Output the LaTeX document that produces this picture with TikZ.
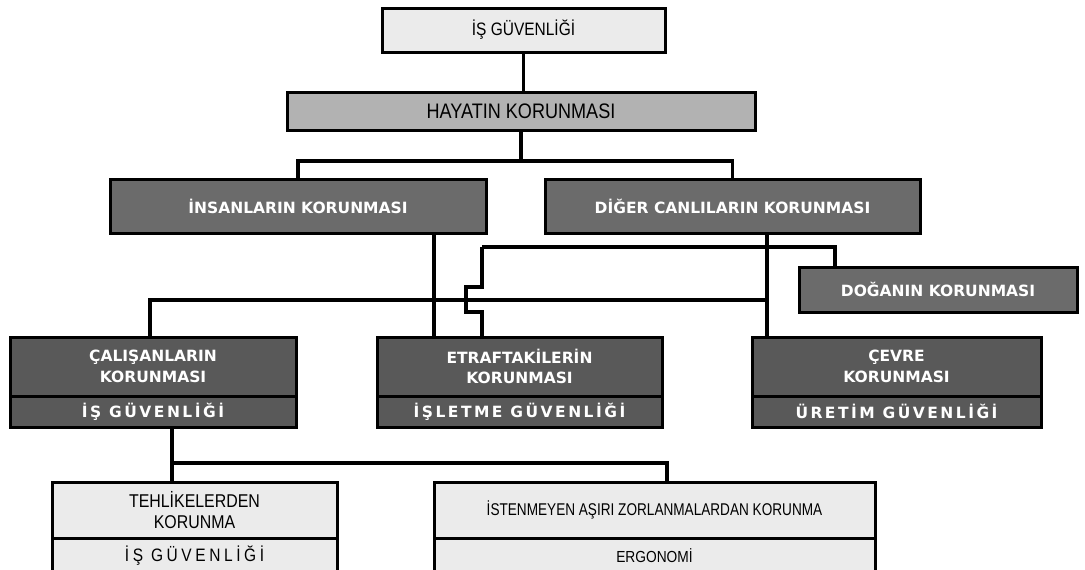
\documentclass[tikz,border=0pt]{standalone}
\usepackage{fontspec}
\setmainfont{Liberation Sans}
\newfontfamily\lightfont[FakeStretch=0.86]{Liberation Sans}
\newfontfamily\lightfontc[FakeStretch=0.8]{Liberation Sans}
\newfontfamily\lightfontsp[FakeStretch=0.86,LetterSpace=20]{Liberation Sans}
\newfontfamily\darkfont{DejaVu Sans}
\newfontfamily\darkfontsp[LetterSpace=16]{DejaVu Sans}
\begin{document}
\begin{tikzpicture}[x=1pt,y=-1pt,
  box/.style={draw=black, line width=3pt, inner sep=0pt, align=center, text=black},
  lightbox/.style={box, fill=black!8, font=\lightfont\fontsize{16}{20}\selectfont},
  midbox/.style={box, fill=black!30, font=\lightfont\fontsize{21}{22}\selectfont},
  darkbox/.style={box, fill=black!58, text=white, font=\darkfont\bfseries\fontsize{15.5}{20.5}\selectfont},
  darkerbox/.style={darkbox, fill=black!65},
  darksub/.style={darkerbox, font=\darkfontsp\bfseries\fontsize{15.5}{20.5}\selectfont},
  conn/.style={line width=3.2pt, line join=miter}]
\useasboundingbox (0,0) rectangle (1085,570);

% level 0 and 1
\node[lightbox, font=\lightfont\fontsize{18}{20}\selectfont, minimum width=283pt, minimum height=44pt] (top) at (523.5,30) {İŞ GÜVENLİĞİ};
\node[midbox, minimum width=468pt, minimum height=38pt] (hay) at (521,111) {HAYATIN KORUNMASI};

% level 2
\node[darkbox, minimum width=376pt, minimum height=54pt] (ins) at (298,206) {İNSANLARIN KORUNMASI};
\node[darkbox, minimum width=375pt, minimum height=54pt] (dig) at (732.5,206) {DİĞER CANLILARIN KORUNMASI};
\node[darkbox, minimum width=278pt, minimum height=45pt] (dog) at (938,289.5) {DOĞANIN KORUNMASI};

% level 3
\node[darkerbox, minimum width=286pt, minimum height=59pt] (cal) at (153,366.5) {ÇALIŞANLARIN\\KORUNMASI};
\node[darksub, minimum width=286pt, minimum height=31pt] (calb) at (153,411.5) {İŞ GÜVENLİĞİ};
\node[darkerbox, minimum width=285pt, minimum height=59pt] (etr) at (519.5,366.5) {ETRAFTAKİLERİN\\KORUNMASI};
\node[darksub, minimum width=285pt, minimum height=31pt] (etrb) at (519.5,411.5) {İŞLETME GÜVENLİĞİ};
\node[darkerbox, minimum width=289pt, minimum height=59pt] (cev) at (896.5,366.5) {ÇEVRE\\KORUNMASI};
\node[darksub, minimum width=289pt, minimum height=31pt] (cevb) at (896.5,411.5) {ÜRETİM GÜVENLİĞİ};

% level 4
\node[lightbox, font=\lightfont\fontsize{18.5}{20.5}\selectfont, minimum width=285pt, minimum height=56pt] (teh) at (194.5,510) {TEHLİKELERDEN\\KORUNMA};
\node[lightbox, font=\lightfontsp\fontsize{18}{20}\selectfont, minimum width=285pt, minimum height=35pt] (tehb) at (194.5,555.5) {İŞ GÜVENLİĞİ};
\node[lightbox, font=\lightfontc\fontsize{17}{20}\selectfont, minimum width=441pt, minimum height=56pt] (ist) at (654.5,510) {İSTENMEYEN AŞIRI ZORLANMALARDAN KORUNMA};
\node[lightbox, minimum width=441pt, minimum height=35pt] (istb) at (654.5,555.5) {ERGONOMİ};

% helper coordinates
\coordinate (b1) at (522,161);
\coordinate (b2) at (482,247);
\coordinate (b2r) at (835,247);
\coordinate (b3) at (150,300);
\coordinate (b4) at (172,463);
\coordinate (x434) at (434,0);
\coordinate (x767) at (767,0);
\coordinate (x667) at (667,0);

% connectors
\draw[conn] (top.south) -- (top.south |- hay.north);
\draw[conn] (hay.south) -- (hay.south |- b1);
\draw[conn] (ins.north) |- (b1) -| (dig.north);
\draw[conn] (ins.south -| x434) -- (etr.north -| x434);
\draw[conn] (dig.south -| x767) -- (cev.north -| x767);
\draw[conn] (b2) -- (b2r) -- (b2r |- dog.north);
\draw[conn] (b2) -- ++(0,40) -- ++(-16,0) -- ++(0,25) -- ++(16,0) -- (etr.north -| b2);
\draw[conn] (cal.north -| b3) -- (b3) -- (b3 -| x767);
\draw[conn] (calb.south -| b4) -- (teh.north -| b4);
\draw[conn] (b4) -| (ist.north -| x667);
\end{tikzpicture}
\end{document}
